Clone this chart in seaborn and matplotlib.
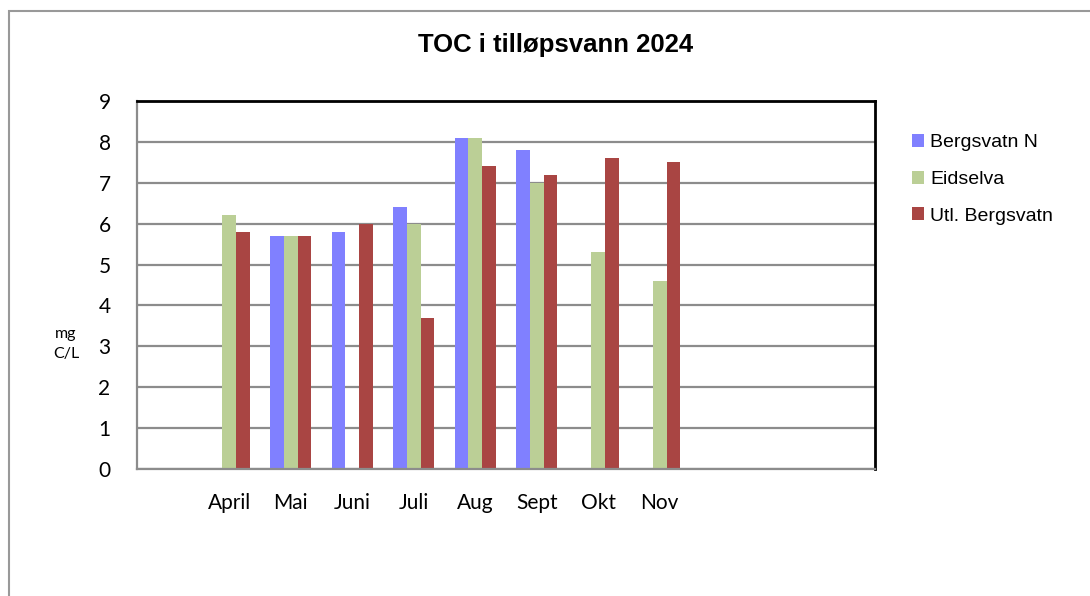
import numpy as np
import pandas as pd
import matplotlib
matplotlib.use("Agg")
import matplotlib.pyplot as plt
from matplotlib.patches import Rectangle
import seaborn as sns

months = ["April", "Mai", "Juni", "Juli", "Aug", "Sept", "Okt", "Nov"]
bergsvatn_n = [np.nan, 5.7, 5.8, 6.4, 8.1, 7.8, np.nan, np.nan]
eidselva = [6.2, 5.7, np.nan, 6.0, 8.1, 7.0, 5.3, 4.6]
utl_bergsvatn = [5.8, 5.7, 6.0, 3.7, 7.4, 7.2, 7.6, 7.5]
series_names = ["Bergsvatn N", "Eidselva", "Utl. Bergsvatn"]
colors = ["#8080FF", "#BBCF96", "#A94543"]
yticks = [0, 1, 2, 3, 4, 5, 6, 7, 8, 9]

rows = []
for name, vals in zip(series_names, [bergsvatn_n, eidselva, utl_bergsvatn]):
    for m, v in zip(months, vals):
        rows.append({"month": m, "series": name, "value": v})
df = pd.DataFrame(rows)

sns.set_style("white")
plt.rcParams["font.family"] = ["Lato", "DejaVu Sans"]
plt.rcParams["text.color"] = "black"
plt.rcParams["xtick.color"] = "black"
plt.rcParams["ytick.color"] = "black"

fig = plt.figure(figsize=(10.9, 5.96), dpi=100)
ax = fig.add_axes([137/1090, 1-469/596, (875-137)/1090, (469-101)/596])

sns.barplot(data=df, x="month", y="value", hue="series", order=months,
            hue_order=series_names, palette=colors, width=0.66,
            errorbar=None, linewidth=0, saturation=1, ax=ax, legend=True)

ax.set_xlim(-1.5, 10.5)
ax.set_ylim(0, 9)
ax.set_yticks(yticks)
ax.set_yticklabels([str(t) for t in yticks])
ax.tick_params(axis="x", length=0, pad=17, labelsize=15, labelcolor="black")
ax.tick_params(axis="y", length=0, pad=19, labelsize=15, labelcolor="black")
ax.set_xlabel("")
ax.set_ylabel("")
ax.grid(axis="y", color="#8C8C8C", linewidth=1.6, zorder=0)
ax.set_axisbelow(True)
for s in ["left", "bottom"]:
    ax.spines[s].set_color("#8C8C8C")
    ax.spines[s].set_linewidth(1.6)
for s in ["top", "right"]:
    ax.spines[s].set_color("black")
    ax.spines[s].set_linewidth(2)

handles, labels = ax.get_legend_handles_labels()
ax.get_legend().remove()
fig.legend(handles, labels, loc="upper left", bbox_to_anchor=(904/1090, 1-126/596),
           frameon=False, prop={"family": "Liberation Sans", "size": 14},
           handlelength=0.65, handleheight=0.65, handletextpad=0.3, labelspacing=1.0,
           borderaxespad=0)

fig.text(556/1090, 1-45/596, "TOC i tilløpsvann 2024", ha="center", va="center",
         fontsize=18.5, fontweight="bold", family="Liberation Sans", color="black")
fig.text(66/1090, 1-344/596, "mg\nC/L", ha="center", va="center", fontsize=11.5,
         linespacing=1.5, color="black")

fig.add_artist(Rectangle((9/1090, -0.1), 1.2, 1-11/596+0.1, transform=fig.transFigure,
                         fill=False, edgecolor="#999999", linewidth=1.5))

fig.savefig("out.png", dpi=100)
